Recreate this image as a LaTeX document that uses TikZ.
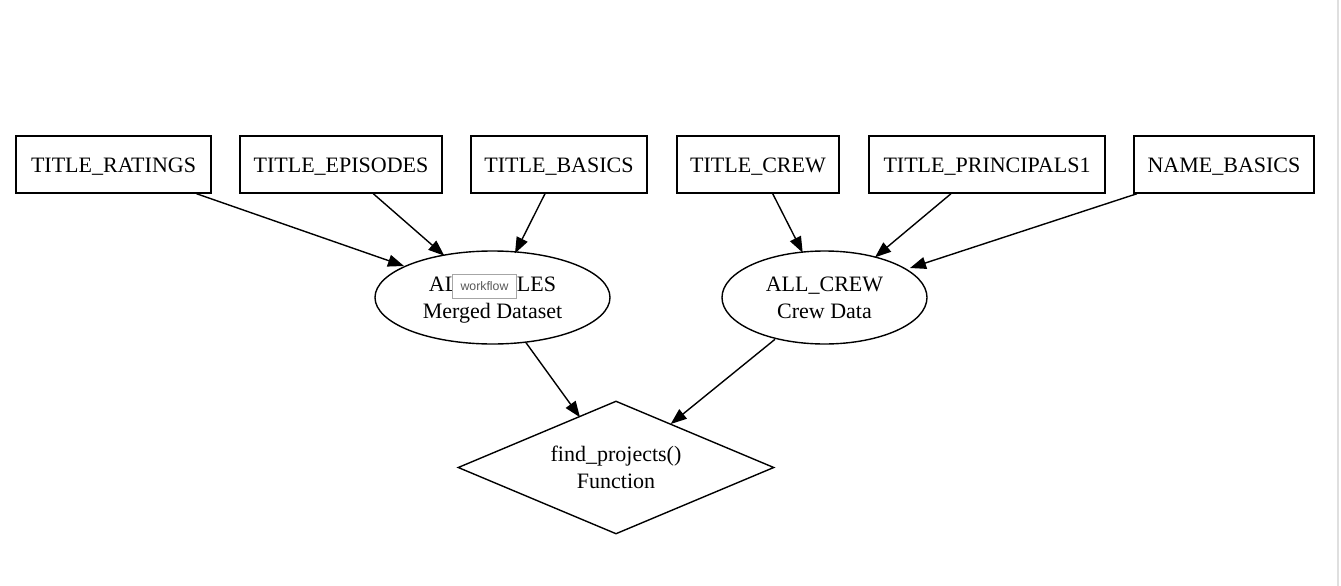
\documentclass[tikz,border=0pt]{standalone}
\usepackage{fontspec}
\setmainfont{Liberation Serif}
\newfontfamily\uifont{Liberation Sans}
\usetikzlibrary{shapes.geometric,arrows.meta,calc}
\newcommand\lstrut{\rule[-6pt]{0pt}{27pt}}
\begin{document}
\begin{tikzpicture}[x=1pt,y=-1pt,
  box/.style={draw,line width=1.4pt,rectangle,minimum height=57pt,inner sep=0pt,font=\fontsize{22}{27}\selectfont},
  oval/.style={draw,line width=1.4pt,ellipse,minimum width=235pt,minimum height=93pt,inner sep=0pt,align=center,font=\fontsize{22}{27}\selectfont},
  func/.style={draw,line width=1.4pt,diamond,shape aspect=2.376,minimum width=316pt,minimum height=133pt,inner sep=0pt,align=center,font=\fontsize{22}{27}\selectfont},
  edge/.style={line width=1.4pt,-{Triangle[length=16pt,width=12pt]}},
  tip/.style={draw=gray!70,line width=0.8pt,fill=white,minimum width=64pt,minimum height=24pt,inner sep=0pt,text=gray!70!black,font=\uifont\fontsize{12.3}{14}\selectfont}
]
\useasboundingbox (0,0) rectangle (1341,586);
\fill[white] (0,0) rectangle (1341,586);
\coordinate (edgetop) at (1337.7,0);
\coordinate (edgebot) at (1337.7,586);
\draw[gray!25,line width=2pt] (edgetop) -- (edgebot);

\node[box,minimum width=195pt] (rat) at (113.5,164.5) {\lstrut TITLE\_RATINGS};
\node[box,minimum width=202pt] (epi) at (341,164.5) {\lstrut TITLE\_EPISODES};
\node[box,minimum width=176pt] (bas) at (559,164.5) {\lstrut TITLE\_BASICS};
\node[box,minimum width=162pt] (crew) at (758,164.5) {\lstrut TITLE\_CREW};
\node[box,minimum width=236pt] (prin) at (987,164.5) {\lstrut TITLE\_PRINCIPALS1};
\node[box,minimum width=180pt] (name) at (1224,164.5) {\lstrut NAME\_BASICS};

\node[oval] (all) at (492.5,297.5) {\lstrut ALL\_TITLES\\\lstrut Merged Dataset};
\node[oval,minimum width=205pt] (crewe) at (824.5,297.5) {\lstrut ALL\_CREW\\\lstrut Crew Data};
\node[func] (fn) at (616,467.5) {\lstrut find\_projects()\\\lstrut Function};

\node[tip] (wf) at (484.5,286.2) {workflow};

\draw[edge] ($(rat.south)+(83,0)$) -- ($(all.center)+(-88.5,-31.5)$);
\draw[edge] ($(epi.south)+(32.3,0)$) -- ($(all.center)+(-48.2,-41.8)$);
\draw[edge] ($(bas.south)+(-14,0)$) -- ($(all.center)+(22.5,-44.2)$);
\draw[edge] ($(crew.south)+(14.7,0)$) -- ($(crewe.center)+(-21.8,-44.8)$);
\draw[edge] ($(prin.south)+(-36,0)$) -- ($(crewe.center)+(50.5,-40.2)$);
\draw[edge] ($(name.south)+(-87,0)$) -- ($(crewe.center)+(85.5,-29.5)$);
\draw[edge] ($(all.center)+(33.5,45.2)$) -- ($(fn.center)+(-36,-50.2)$);
\draw[edge] ($(crewe.center)+(-49.5,41.8)$) -- ($(fn.center)+(54.7,-43.5)$);
\end{tikzpicture}
\end{document}
